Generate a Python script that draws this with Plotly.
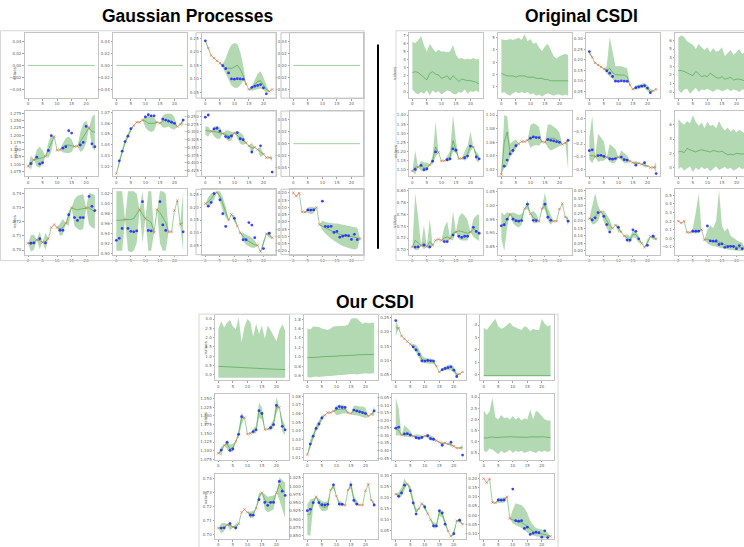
import plotly.graph_objects as go

# ---------------------------------------------------------------- data
STEPS = list(range(24))
XTICKS = [0, 5, 10, 15, 20]

# ground truth shared by the three methods (cell = row/column of a 3x4 grid)
TRUTH_R1C3 = [0.240, 0.213, 0.186, 0.176, 0.166, 0.157, 0.148, 0.137, 0.121, 0.099, 0.098, 0.100,
              0.099, 0.098, 0.080, 0.060, 0.068, 0.072, 0.075, 0.078, 0.066, 0.044, 0.053, 0.060]
OBS_R1C3 = [1, 2, 3, 4, 5, 14, 15, 22, 23]
TRUTH_R2C1 = [1.093, 1.102, 1.115, 1.124, 1.101, 1.105, 1.127, 1.147, 1.198, 1.195, 1.148, 1.150,
              1.155, 1.160, 1.215, 1.207, 1.161, 1.162, 1.166, 1.175, 1.230, 1.225, 1.170, 1.160]
OBS_R2C1 = [0, 2, 6, 9, 10, 11, 16, 17, 21]
TRUTH_R2C2 = [1.013, 1.025, 1.034, 1.043, 1.048, 1.055, 1.058, 1.061, 1.061, 1.063, 1.066, 1.068,
              1.067, 1.067, 1.061, 1.060, 1.064, 1.063, 1.062, 1.061, 1.060, 1.057, 1.059, 1.063]
OBS_R2C2 = [0, 6, 7, 8, 9, 14, 15, 21, 22]
TRUTH_R2C3 = [-0.252, -0.245, -0.298, -0.290, -0.288, -0.297, -0.305, -0.315, -0.318, -0.313, -0.303, -0.302,
              -0.322, -0.325, -0.335, -0.345, -0.365, -0.350, -0.357, -0.345, -0.372, -0.383, -0.383, -0.430]
OBS_R2C3 = [2, 6, 10, 14, 15, 17, 18, 20, 21, 22]
TRUTH_R3C1 = [0.7048, 0.7048, 0.7050, 0.7072, 0.7080, 0.7055, 0.7050, 0.7080, 0.7160, 0.7180, 0.7160, 0.7140,
              0.7140, 0.7190, 0.7250, 0.7300, 0.7230, 0.7210, 0.7230, 0.7230, 0.7300, 0.7380, 0.7310, 0.7280]
OBS_R3C1 = [0, 3, 5, 7, 8, 9, 10, 13, 15, 20]
TRUTH_R3C2 = [0.926, 0.930, 0.950, 0.968, 0.950, 0.944, 0.943, 0.945, 0.988, 1.004, 0.970, 0.946,
              0.945, 0.942, 0.988, 1.004, 0.957, 0.946, 0.943, 0.943, 0.986, 1.006, 0.958, 0.943]
OBS_R3C2 = [3, 8, 10, 13, 14, 18, 19, 20, 21, 22]
TRUTH_R3C3 = [0.215, 0.205, 0.220, 0.255, 0.260, 0.230, 0.175, 0.125, 0.150, 0.172, 0.157, 0.127,
              0.100, 0.072, 0.072, 0.140, 0.130, 0.080, 0.050, 0.025, 0.037, 0.095, 0.098, 0.080]
OBS_R3C3 = [0, 4, 8, 9, 11, 12, 18, 19, 21, 23]
TRUTH_R3C4 = [0.200, 0.178, 0.198, 0.070, 0.068, 0.083, 0.082, 0.083, 0.100, -0.018, 0.143, -0.030,
              -0.033, -0.030, -0.072, -0.065, -0.105, -0.098, -0.093, -0.095, -0.120, -0.085, -0.122, -0.115]
OBS_R3C4 = [0, 1, 2, 3, 4, 8, 9, 23]

# ---- Gaussian process imputation: median, 5% and 95% quantiles
GP_ZERO = [0.0, 0.0, 0.0, 0.0, 0.0, 0.0, 0.0, 0.0, 0.0, 0.0, 0.0, 0.0,
           0.0, 0.0, 0.0, 0.0, 0.0, 0.0, 0.0, 0.0, 0.0, 0.0, 0.0, 0.0]
GP_R1C3_MID = [0.240, 0.213, 0.186, 0.176, 0.166, 0.157, 0.148, 0.140, 0.138, 0.138, 0.143, 0.150,
               0.135, 0.112, 0.080, 0.060, 0.064, 0.076, 0.090, 0.092, 0.078, 0.060, 0.053, 0.060]
GP_R1C3_LO = [0.236, 0.213, 0.186, 0.176, 0.166, 0.157, 0.140, 0.120, 0.095, 0.075, 0.066, 0.066,
              0.075, 0.092, 0.080, 0.060, 0.055, 0.058, 0.062, 0.064, 0.058, 0.048, 0.053, 0.060]
GP_R1C3_HI = [0.244, 0.213, 0.186, 0.176, 0.166, 0.157, 0.155, 0.175, 0.205, 0.225, 0.232, 0.228,
              0.200, 0.150, 0.080, 0.060, 0.072, 0.095, 0.118, 0.127, 0.105, 0.075, 0.053, 0.060]
GP_R2C1_MID = [1.093, 1.106, 1.115, 1.118, 1.120, 1.122, 1.127, 1.150, 1.178, 1.195, 1.148, 1.150,
               1.160, 1.165, 1.166, 1.164, 1.161, 1.162, 1.178, 1.193, 1.212, 1.225, 1.212, 1.210]
GP_R2C1_LO = [1.093, 1.082, 1.115, 1.092, 1.088, 1.098, 1.127, 1.122, 1.142, 1.195, 1.148, 1.150,
              1.140, 1.138, 1.138, 1.142, 1.161, 1.162, 1.142, 1.150, 1.172, 1.225, 1.158, 1.145]
GP_R2C1_HI = [1.093, 1.130, 1.115, 1.150, 1.160, 1.148, 1.127, 1.175, 1.200, 1.195, 1.148, 1.150,
              1.172, 1.190, 1.195, 1.185, 1.161, 1.162, 1.210, 1.240, 1.250, 1.225, 1.262, 1.272]
GP_R2C2_MID = [1.013, 1.024, 1.033, 1.042, 1.048, 1.054, 1.058, 1.061, 1.061, 1.063, 1.062, 1.060,
               1.060, 1.060, 1.061, 1.060, 1.062, 1.063, 1.063, 1.062, 1.060, 1.057, 1.059, 1.063]
GP_R2C2_LO = [1.013, 1.022, 1.031, 1.040, 1.046, 1.052, 1.058, 1.061, 1.061, 1.063, 1.056, 1.053,
              1.052, 1.053, 1.061, 1.060, 1.056, 1.056, 1.057, 1.055, 1.054, 1.057, 1.059, 1.058]
GP_R2C2_HI = [1.013, 1.027, 1.036, 1.045, 1.051, 1.056, 1.058, 1.061, 1.061, 1.063, 1.067, 1.067,
              1.067, 1.066, 1.061, 1.060, 1.067, 1.069, 1.069, 1.069, 1.066, 1.057, 1.059, 1.066]
GP_R2C3_MID = [-0.295, -0.297, -0.298, -0.298, -0.300, -0.303, -0.305, -0.308, -0.312, -0.312, -0.303, -0.310,
               -0.320, -0.327, -0.335, -0.345, -0.352, -0.350, -0.357, -0.365, -0.372, -0.383, -0.383, -0.386]
GP_R2C3_LO = [-0.310, -0.315, -0.298, -0.315, -0.322, -0.322, -0.305, -0.322, -0.330, -0.328, -0.303, -0.322,
              -0.338, -0.342, -0.335, -0.345, -0.372, -0.350, -0.357, -0.382, -0.372, -0.383, -0.383, -0.395]
GP_R2C3_HI = [-0.282, -0.282, -0.298, -0.282, -0.280, -0.285, -0.305, -0.295, -0.295, -0.298, -0.303, -0.298,
              -0.302, -0.310, -0.335, -0.345, -0.335, -0.350, -0.357, -0.348, -0.372, -0.383, -0.383, -0.378]
GP_R3C1_MID = [0.7048, 0.7050, 0.7052, 0.7072, 0.7068, 0.7055, 0.7060, 0.7080, 0.7160, 0.7180, 0.7160, 0.7150,
               0.7160, 0.7190, 0.7240, 0.7300, 0.7290, 0.7285, 0.7290, 0.7295, 0.7300, 0.7300, 0.7285, 0.7270]
GP_R3C1_LO = [0.7048, 0.6990, 0.7000, 0.7072, 0.7005, 0.7055, 0.7000, 0.7080, 0.7160, 0.7180, 0.7160, 0.7100,
              0.7110, 0.7190, 0.7170, 0.7300, 0.7170, 0.7150, 0.7140, 0.7150, 0.7300, 0.7180, 0.7160, 0.7150]
GP_R3C1_HI = [0.7048, 0.7105, 0.7110, 0.7072, 0.7130, 0.7055, 0.7120, 0.7080, 0.7160, 0.7180, 0.7160, 0.7190,
              0.7220, 0.7190, 0.7280, 0.7300, 0.7360, 0.7385, 0.7390, 0.7395, 0.7300, 0.7405, 0.7400, 0.7390]
GP_R3C2_MID = [0.966, 0.966, 0.967, 0.968, 0.968, 0.968, 0.970, 0.978, 0.988, 0.978, 0.970, 0.966,
               0.962, 0.942, 0.988, 0.982, 0.972, 0.962, 0.943, 0.943, 0.986, 1.006, 0.958, 0.962]
GP_R3C2_LO = [0.905, 0.905, 0.905, 0.968, 0.905, 0.902, 0.905, 0.920, 0.988, 0.920, 0.970, 0.905,
              0.905, 0.942, 0.988, 0.920, 0.905, 0.905, 0.943, 0.943, 0.986, 1.006, 0.958, 0.905]
GP_R3C2_HI = [1.025, 1.025, 1.025, 0.968, 1.025, 1.025, 1.025, 1.020, 0.988, 1.025, 0.970, 1.025,
              1.025, 0.942, 0.988, 1.025, 1.025, 1.020, 0.943, 0.943, 0.986, 1.006, 0.958, 1.025]
GP_R3C3_MID = [0.215, 0.222, 0.235, 0.250, 0.260, 0.245, 0.215, 0.185, 0.150, 0.172, 0.155, 0.127,
               0.100, 0.085, 0.072, 0.065, 0.058, 0.052, 0.050, 0.025, 0.060, 0.095, 0.092, 0.080]
GP_R3C3_LO = [0.215, 0.200, 0.212, 0.230, 0.260, 0.220, 0.185, 0.160, 0.150, 0.172, 0.140, 0.127,
              0.100, 0.068, 0.052, 0.045, 0.040, 0.040, 0.050, 0.025, 0.045, 0.095, 0.080, 0.080]
GP_R3C3_HI = [0.215, 0.240, 0.255, 0.262, 0.260, 0.265, 0.240, 0.205, 0.150, 0.172, 0.170, 0.127,
              0.100, 0.100, 0.092, 0.088, 0.080, 0.068, 0.050, 0.025, 0.070, 0.095, 0.105, 0.080]
GP_R3C4_MID = [0.200, 0.178, 0.198, 0.070, 0.068, 0.080, 0.082, 0.082, 0.100, -0.018, -0.030, -0.042,
               -0.052, -0.060, -0.070, -0.078, -0.085, -0.090, -0.093, -0.095, -0.100, -0.105, -0.110, -0.115]
GP_R3C4_LO = [0.200, 0.178, 0.198, 0.070, 0.068, 0.060, 0.055, 0.058, 0.100, -0.018, -0.055, -0.080,
              -0.100, -0.115, -0.130, -0.145, -0.155, -0.165, -0.175, -0.180, -0.185, -0.190, -0.185, -0.115]
GP_R3C4_HI = [0.200, 0.178, 0.198, 0.070, 0.068, 0.100, 0.105, 0.102, 0.100, -0.018, 0.010, 0.000,
              -0.005, -0.010, -0.010, -0.010, -0.015, -0.020, -0.025, -0.030, -0.035, -0.040, -0.040, -0.115]

# ---- original CSDI: median, 5% and 95% quantiles
ORIG_R1C1_MID = [2.4, 2.5, 2.4, 2.1, 1.9, 1.5, 2.3, 2.5, 2.2, 2.1, 1.7, 1.8,
                 2.0, 1.5, 2.0, 1.7, 1.3, 1.6, 1.5, 1.4, 1.4, 1.3, 1.2, 1.0]
ORIG_R1C1_LO = [0.3, -0.1, -0.3, 0.0, -0.2, 0.2, -0.4, 0.2, -0.1, 0.1, -0.3, 0.0,
                0.2, 0.1, -0.2, -0.3, 0.0, -0.1, 0.3, -0.2, 0.1, 0.0, 0.2, -0.1]
ORIG_R1C1_HI = [6.2, 6.0, 6.4, 6.9, 5.8, 5.0, 5.9, 5.4, 4.9, 5.2, 5.0, 5.0,
                4.9, 5.0, 5.8, 4.6, 4.1, 4.2, 4.0, 4.1, 4.0, 4.2, 4.0, 4.1]
ORIG_R1C2_MID = [2.1, 2.0, 1.9, 1.9, 1.9, 1.8, 1.9, 1.9, 1.9, 1.8, 1.8, 1.8,
                 1.7, 1.7, 1.7, 1.6, 1.6, 1.5, 1.5, 1.5, 1.5, 1.5, 1.5, 1.5]
ORIG_R1C2_LO = [0.5, 0.6, 0.4, 0.3, 0.5, 0.6, 0.5, 0.6, 0.5, 0.6, 0.4, 0.5,
                0.3, 0.4, 0.2, 0.4, 0.5, 0.4, 0.3, 0.4, 0.4, 0.3, 0.4, 0.3]
ORIG_R1C2_HI = [4.9, 4.8, 4.8, 4.9, 4.8, 4.9, 5.0, 4.8, 5.3, 4.7, 4.9, 4.5,
                4.6, 4.2, 3.9, 4.3, 4.5, 4.0, 3.5, 3.3, 3.5, 3.6, 3.7, 3.6]
ORIG_R1C3_MID = [0.235, 0.213, 0.186, 0.176, 0.166, 0.157, 0.150, 0.160, 0.140, 0.130, 0.128, 0.128,
                 0.128, 0.120, 0.080, 0.060, 0.068, 0.072, 0.078, 0.078, 0.065, 0.050, 0.053, 0.060]
ORIG_R1C3_LO = [0.225, 0.213, 0.186, 0.176, 0.166, 0.157, 0.135, 0.120, 0.105, 0.095, 0.100, 0.105,
                0.100, 0.098, 0.080, 0.060, 0.058, 0.060, 0.066, 0.066, 0.052, 0.040, 0.053, 0.060]
ORIG_R1C3_HI = [0.245, 0.213, 0.186, 0.176, 0.166, 0.157, 0.170, 0.310, 0.240, 0.170, 0.170, 0.170,
                0.165, 0.160, 0.080, 0.060, 0.078, 0.082, 0.088, 0.090, 0.080, 0.062, 0.053, 0.060]
ORIG_R1C4_MID = [2.5, 2.5, 2.4, 2.2, 2.0, 1.9, 2.4, 2.1, 1.8, 1.9, 1.8, 2.2,
                 1.9, 1.7, 1.6, 1.8, 1.5, 1.6, 1.7, 1.4, 1.5, 1.5, 1.4, 1.3]
ORIG_R1C4_LO = [0.2, -0.1, 0.3, 0.4, -0.2, 0.1, 0.5, 0.0, 0.3, 0.2, 0.4, 0.2,
                0.0, 0.3, 0.3, 0.1, 0.2, 0.4, 0.1, 0.3, 0.2, 0.0, 0.3, 0.2]
ORIG_R1C4_HI = [6.3, 6.6, 6.4, 5.9, 5.7, 5.5, 5.0, 5.6, 5.2, 4.9, 5.2, 4.6,
                5.1, 4.7, 4.8, 5.2, 4.2, 4.5, 4.9, 4.3, 4.6, 5.0, 4.4, 4.7]
ORIG_R2C1_MID = [1.093, 1.115, 1.115, 1.125, 1.110, 1.110, 1.127, 1.150, 1.225, 1.195, 1.148, 1.150,
                 1.160, 1.170, 1.260, 1.215, 1.161, 1.162, 1.170, 1.185, 1.230, 1.225, 1.180, 1.160]
ORIG_R2C1_LO = [1.093, 1.075, 1.115, 1.095, 1.090, 1.095, 1.127, 1.130, 1.170, 1.195, 1.148, 1.150,
                1.145, 1.150, 1.200, 1.190, 1.161, 1.162, 1.150, 1.160, 1.200, 1.225, 1.150, 1.140]
ORIG_R2C1_HI = [1.093, 1.205, 1.115, 1.150, 1.140, 1.140, 1.127, 1.180, 1.365, 1.195, 1.148, 1.150,
                1.175, 1.200, 1.400, 1.260, 1.161, 1.162, 1.200, 1.230, 1.310, 1.225, 1.200, 1.180]
ORIG_R2C2_MID = [1.013, 1.060, 1.075, 1.045, 1.050, 1.055, 1.058, 1.061, 1.061, 1.063, 1.065, 1.068,
                 1.068, 1.067, 1.061, 1.060, 1.066, 1.066, 1.066, 1.064, 1.062, 1.057, 1.059, 1.063]
ORIG_R2C2_LO = [1.013, 1.022, 1.025, 1.038, 1.044, 1.050, 1.058, 1.061, 1.061, 1.063, 1.052, 1.055,
                1.056, 1.055, 1.061, 1.060, 1.052, 1.048, 1.050, 1.052, 1.054, 1.057, 1.059, 1.020]
ORIG_R2C2_HI = [1.013, 1.100, 1.098, 1.058, 1.062, 1.064, 1.058, 1.061, 1.061, 1.063, 1.085, 1.088,
                1.086, 1.082, 1.061, 1.060, 1.086, 1.086, 1.083, 1.080, 1.074, 1.057, 1.059, 1.068]
ORIG_R2C3_MID = [-0.290, -0.290, -0.298, -0.290, -0.290, -0.297, -0.305, -0.310, -0.315, -0.312, -0.303, -0.305,
                 -0.318, -0.322, -0.335, -0.345, -0.350, -0.350, -0.357, -0.362, -0.372, -0.383, -0.383, -0.380]
ORIG_R2C3_LO = [-0.320, -0.350, -0.298, -0.340, -0.330, -0.330, -0.305, -0.340, -0.350, -0.340, -0.303, -0.330,
                -0.350, -0.350, -0.335, -0.345, -0.370, -0.350, -0.357, -0.380, -0.372, -0.383, -0.383, -0.420]
ORIG_R2C3_HI = [-0.150, 0.020, -0.298, -0.120, -0.150, -0.180, -0.305, -0.200, -0.220, -0.240, -0.303, -0.250,
                -0.270, -0.290, -0.335, -0.345, -0.330, -0.350, -0.357, -0.340, -0.372, -0.383, -0.383, -0.340]
ORIG_R2C4_MID = [2.2, 2.3, 2.1, 2.7, 2.5, 2.3, 2.2, 2.4, 2.5, 2.4, 2.3, 2.2,
                 2.4, 2.3, 2.2, 2.3, 2.1, 1.8, 1.9, 1.8, 2.0, 1.9, 1.9, 2.0]
ORIG_R2C4_LO = [-0.2, 0.1, -0.4, -0.1, 0.2, -0.6, 0.0, -0.3, 0.1, -0.2, 0.0, -0.5,
                -0.1, 0.2, -0.3, -0.1, 0.1, -0.2, 0.0, -0.4, -0.1, 0.1, -0.2, 0.0]
ORIG_R2C4_HI = [6.8, 6.3, 6.0, 6.5, 6.2, 7.3, 6.4, 5.8, 6.3, 5.5, 6.4, 5.8,
                6.0, 5.5, 6.5, 5.7, 5.2, 5.6, 5.0, 5.4, 4.9, 5.3, 5.0, 4.8]
ORIG_R3C1_MID = [0.7048, 0.7160, 0.7120, 0.7072, 0.7120, 0.7055, 0.7140, 0.7080, 0.7160, 0.7180, 0.7160, 0.7200,
                 0.7220, 0.7190, 0.7280, 0.7300, 0.7320, 0.7310, 0.7300, 0.7280, 0.7300, 0.7350, 0.7320, 0.7280]
ORIG_R3C1_LO = [0.7048, 0.7000, 0.7000, 0.7072, 0.7010, 0.7055, 0.7010, 0.7080, 0.7160, 0.7180, 0.7160, 0.7120,
                0.7120, 0.7190, 0.7160, 0.7300, 0.7180, 0.7160, 0.7160, 0.7160, 0.7300, 0.7220, 0.7180, 0.7150]
ORIG_R3C1_HI = [0.7048, 0.7950, 0.7550, 0.7072, 0.7420, 0.7055, 0.7520, 0.7080, 0.7160, 0.7180, 0.7160, 0.7380,
                0.7480, 0.7190, 0.7650, 0.7300, 0.7550, 0.7620, 0.7580, 0.7500, 0.7300, 0.7520, 0.7580, 0.7600]
ORIG_R3C2_MID = [0.930, 0.930, 0.950, 0.968, 0.955, 0.948, 0.945, 0.950, 0.988, 1.000, 0.970, 0.955,
                 0.950, 0.942, 0.988, 1.000, 0.965, 0.950, 0.943, 0.943, 0.986, 1.006, 0.958, 0.950]
ORIG_R3C2_LO = [0.880, 0.835, 0.920, 0.968, 0.935, 0.925, 0.920, 0.930, 0.988, 0.985, 0.970, 0.935,
                0.935, 0.942, 0.988, 0.985, 0.945, 0.930, 0.943, 0.943, 0.986, 1.006, 0.958, 0.925]
ORIG_R3C2_HI = [0.975, 0.965, 0.975, 0.968, 0.975, 0.970, 0.965, 0.970, 0.988, 1.020, 0.970, 0.980,
                0.970, 0.942, 0.988, 1.045, 0.990, 0.965, 0.943, 0.943, 0.986, 1.006, 0.958, 0.960]
ORIG_R3C3_MID = [0.215, 0.215, 0.230, 0.250, 0.260, 0.235, 0.200, 0.170, 0.150, 0.172, 0.150, 0.127,
                 0.100, 0.085, 0.072, 0.110, 0.110, 0.080, 0.050, 0.025, 0.055, 0.095, 0.090, 0.080]
ORIG_R3C3_LO = [0.215, 0.175, 0.180, 0.200, 0.260, 0.190, 0.150, 0.120, 0.150, 0.172, 0.120, 0.127,
                0.100, 0.060, 0.055, 0.090, 0.085, 0.055, 0.050, 0.025, 0.030, 0.095, 0.070, 0.080]
ORIG_R3C3_HI = [0.215, 0.300, 0.385, 0.300, 0.260, 0.270, 0.240, 0.210, 0.150, 0.172, 0.175, 0.127,
                0.100, 0.110, 0.095, 0.135, 0.130, 0.100, 0.050, 0.025, 0.080, 0.095, 0.110, 0.080]
ORIG_R3C4_MID = [0.200, 0.178, 0.198, 0.070, 0.068, 0.080, 0.080, 0.085, 0.100, -0.018, -0.010, -0.025,
                 -0.040, -0.050, -0.040, -0.060, -0.075, -0.085, -0.090, -0.095, -0.100, -0.105, -0.110, -0.115]
ORIG_R3C4_LO = [0.200, 0.178, 0.198, 0.070, 0.068, 0.060, 0.055, 0.060, 0.100, -0.018, -0.060, -0.080,
                -0.090, -0.100, -0.110, -0.115, -0.120, -0.130, -0.135, -0.140, -0.145, -0.150, -0.150, -0.115]
ORIG_R3C4_HI = [0.200, 0.178, 0.198, 0.070, 0.068, 0.120, 0.300, 0.520, 0.100, -0.018, 0.100, 0.150,
                0.120, 0.200, 0.560, 0.150, 0.080, 0.120, 0.030, 0.000, -0.020, -0.040, -0.050, -0.115]

# ---- our CSDI: median, 5% and 95% quantiles
OURS_R1C1_MID = [0.46, 0.45, 0.45, 0.44, 0.43, 0.42, 0.41, 0.40, 0.40, 0.38, 0.37, 0.36,
                 0.36, 0.34, 0.33, 0.34, 0.32, 0.31, 0.31, 0.31, 0.30, 0.30, 0.29, 0.29]
OURS_R1C1_LO = [-0.15, -0.15, -0.16, -0.15, -0.15, -0.16, -0.15, -0.15, -0.16, -0.15, -0.15, -0.15,
                -0.16, -0.15, -0.15, -0.15, -0.16, -0.15, -0.15, -0.15, -0.16, -0.15, -0.15, -0.15]
OURS_R1C1_HI = [2.45, 2.90, 2.55, 2.80, 2.95, 2.60, 2.45, 3.10, 1.75, 2.60, 3.00, 2.85,
                2.05, 2.75, 2.20, 2.65, 1.95, 2.65, 2.40, 2.10, 1.80, 2.40, 2.70, 2.40]
OURS_R1C2_MID = [0.98, 0.98, 0.99, 0.99, 0.99, 1.00, 1.00, 1.00, 1.01, 1.01, 1.01, 1.02,
                 1.02, 1.02, 1.03, 1.03, 1.03, 1.04, 1.04, 1.04, 1.05, 1.05, 1.05, 1.05]
OURS_R1C2_LO = [0.57, 0.56, 0.57, 0.58, 0.57, 0.58, 0.58, 0.59, 0.59, 0.60, 0.60, 0.61,
                0.61, 0.62, 0.62, 0.63, 0.63, 0.62, 0.63, 0.64, 0.65, 0.64, 0.65, 0.65]
OURS_R1C2_HI = [1.60, 1.58, 1.64, 1.64, 1.63, 1.60, 1.58, 1.57, 1.60, 1.64, 1.65, 1.65,
                1.66, 1.66, 1.68, 1.80, 1.82, 1.82, 1.76, 1.70, 1.73, 1.71, 1.72, 1.72]
OURS_R1C3_MID = [0.215, 0.213, 0.186, 0.176, 0.166, 0.157, 0.148, 0.140, 0.125, 0.105, 0.100, 0.100,
                 0.098, 0.098, 0.080, 0.060, 0.068, 0.072, 0.075, 0.077, 0.068, 0.050, 0.053, 0.060]
OURS_R1C3_LO = [0.185, 0.213, 0.186, 0.176, 0.166, 0.157, 0.140, 0.128, 0.110, 0.092, 0.090, 0.090,
                0.090, 0.088, 0.080, 0.060, 0.062, 0.066, 0.066, 0.066, 0.058, 0.042, 0.053, 0.060]
OURS_R1C3_HI = [0.245, 0.213, 0.186, 0.176, 0.166, 0.157, 0.158, 0.155, 0.140, 0.118, 0.110, 0.108,
                0.106, 0.105, 0.080, 0.060, 0.074, 0.080, 0.085, 0.086, 0.078, 0.058, 0.053, 0.060]
OURS_R1C4_MID = [-0.06, -0.06, -0.05, -0.06, -0.06, -0.05, -0.06, -0.06, -0.06, -0.05, -0.06, -0.06,
                 -0.06, -0.05, -0.06, -0.06, -0.06, -0.05, -0.06, -0.06, -0.06, -0.06, -0.05, -0.06]
OURS_R1C4_LO = [-0.10, -0.10, -0.10, -0.11, -0.10, -0.10, -0.10, -0.11, -0.10, -0.10, -0.10, -0.10,
                -0.11, -0.10, -0.10, -0.10, -0.11, -0.10, -0.10, -0.10, -0.10, -0.11, -0.10, -0.10]
OURS_R1C4_HI = [3.8, 3.6, 3.9, 4.2, 4.5, 3.9, 3.7, 3.8, 4.0, 4.2, 3.9, 3.8,
                3.7, 3.6, 3.9, 3.8, 3.5, 3.7, 3.6, 3.6, 4.5, 4.1, 3.9, 4.0]
OURS_R2C1_MID = [1.093, 1.100, 1.115, 1.120, 1.105, 1.108, 1.127, 1.150, 1.195, 1.195, 1.148, 1.150,
                 1.155, 1.160, 1.215, 1.207, 1.161, 1.162, 1.166, 1.178, 1.225, 1.225, 1.175, 1.160]
OURS_R2C1_LO = [1.093, 1.085, 1.115, 1.105, 1.095, 1.097, 1.127, 1.138, 1.175, 1.195, 1.148, 1.150,
                1.148, 1.150, 1.195, 1.190, 1.161, 1.162, 1.158, 1.165, 1.208, 1.225, 1.155, 1.145]
OURS_R2C1_HI = [1.093, 1.112, 1.115, 1.132, 1.118, 1.120, 1.127, 1.162, 1.210, 1.195, 1.148, 1.150,
                1.163, 1.172, 1.238, 1.225, 1.161, 1.162, 1.175, 1.190, 1.255, 1.225, 1.192, 1.172]
OURS_R2C2_MID = [1.013, 1.025, 1.034, 1.043, 1.048, 1.055, 1.058, 1.061, 1.061, 1.063, 1.064, 1.065,
                 1.065, 1.065, 1.061, 1.060, 1.064, 1.063, 1.063, 1.062, 1.061, 1.057, 1.059, 1.063]
OURS_R2C2_LO = [1.013, 1.020, 1.030, 1.039, 1.045, 1.052, 1.058, 1.061, 1.061, 1.063, 1.058, 1.059,
                1.060, 1.060, 1.061, 1.060, 1.058, 1.058, 1.057, 1.056, 1.055, 1.057, 1.059, 1.057]
OURS_R2C2_HI = [1.013, 1.030, 1.038, 1.047, 1.052, 1.058, 1.058, 1.061, 1.061, 1.063, 1.069, 1.070,
                1.070, 1.069, 1.061, 1.060, 1.069, 1.069, 1.068, 1.068, 1.067, 1.057, 1.059, 1.069]
OURS_R2C3_MID = [-0.255, -0.265, -0.298, -0.290, -0.290, -0.297, -0.305, -0.312, -0.316, -0.313, -0.303, -0.305,
                 -0.318, -0.322, -0.335, -0.345, -0.355, -0.350, -0.357, -0.360, -0.372, -0.383, -0.383, -0.380]
OURS_R2C3_LO = [-0.300, -0.300, -0.298, -0.310, -0.308, -0.312, -0.305, -0.325, -0.330, -0.325, -0.303, -0.318,
                -0.332, -0.335, -0.335, -0.345, -0.370, -0.350, -0.357, -0.375, -0.372, -0.383, -0.383, -0.400]
OURS_R2C3_HI = [-0.050, -0.120, -0.298, -0.230, -0.250, -0.270, -0.305, -0.290, -0.295, -0.298, -0.303, -0.290,
                -0.300, -0.308, -0.335, -0.345, -0.340, -0.350, -0.357, -0.345, -0.372, -0.383, -0.383, -0.360]
OURS_R2C4_MID = [1.18, 1.17, 1.20, 1.22, 1.19, 1.20, 1.22, 1.20, 1.21, 1.23, 1.22, 1.21,
                 1.20, 1.22, 1.21, 1.20, 1.22, 1.21, 1.20, 1.22, 1.23, 1.21, 1.20, 1.19]
OURS_R2C4_LO = [0.60, 0.55, 0.70, 0.65, 0.55, 0.45, 0.60, 0.50, 0.55, 0.65, 0.50, 0.60,
                0.55, 0.60, 0.50, 0.55, 0.60, 0.55, 0.50, 0.60, 0.55, 0.60, 0.55, 0.60]
OURS_R2C4_HI = [2.40, 2.20, 2.35, 2.98, 2.10, 2.00, 2.20, 2.05, 2.10, 2.00, 2.15, 2.00,
                2.10, 1.95, 2.05, 2.00, 2.45, 2.00, 2.40, 2.30, 2.15, 2.00, 1.95, 1.95]
OURS_R3C1_MID = [0.7048, 0.7050, 0.7050, 0.7072, 0.7065, 0.7055, 0.7052, 0.7080, 0.7160, 0.7180, 0.7160, 0.7150,
                 0.7145, 0.7190, 0.7270, 0.7300, 0.7250, 0.7230, 0.7230, 0.7240, 0.7300, 0.7360, 0.7320, 0.7300]
OURS_R3C1_LO = [0.7048, 0.7010, 0.7025, 0.7072, 0.7030, 0.7055, 0.7030, 0.7080, 0.7160, 0.7180, 0.7160, 0.7120,
                0.7120, 0.7190, 0.7230, 0.7300, 0.7180, 0.7160, 0.7170, 0.7180, 0.7300, 0.7250, 0.7180, 0.7120]
OURS_R3C1_HI = [0.7048, 0.7080, 0.7085, 0.7072, 0.7095, 0.7055, 0.7080, 0.7080, 0.7160, 0.7180, 0.7160, 0.7165,
                0.7170, 0.7190, 0.7300, 0.7300, 0.7290, 0.7270, 0.7275, 0.7280, 0.7300, 0.7410, 0.7390, 0.7370]
OURS_R3C2_MID = [0.915, 0.915, 0.950, 0.968, 0.950, 0.938, 0.936, 0.938, 0.988, 1.002, 0.970, 0.947,
                 0.946, 0.942, 0.988, 1.003, 0.960, 0.948, 0.943, 0.943, 0.986, 1.006, 0.958, 0.945]
OURS_R3C2_LO = [0.852, 0.850, 0.935, 0.968, 0.938, 0.925, 0.925, 0.928, 0.988, 0.992, 0.970, 0.940,
                0.940, 0.942, 0.988, 0.992, 0.950, 0.940, 0.943, 0.943, 0.986, 1.006, 0.958, 0.935]
OURS_R3C2_HI = [0.945, 0.960, 0.962, 0.968, 0.962, 0.955, 0.952, 0.955, 0.988, 1.012, 0.970, 0.955,
                0.952, 0.942, 0.988, 1.018, 0.972, 0.958, 0.943, 0.943, 0.986, 1.006, 0.958, 0.955]
OURS_R3C3_MID = [0.215, 0.210, 0.225, 0.250, 0.260, 0.235, 0.180, 0.135, 0.150, 0.172, 0.155, 0.127,
                 0.100, 0.075, 0.072, 0.135, 0.125, 0.085, 0.050, 0.025, 0.040, 0.095, 0.095, 0.080]
OURS_R3C3_LO = [0.215, 0.195, 0.205, 0.235, 0.260, 0.215, 0.165, 0.120, 0.150, 0.172, 0.143, 0.127,
                0.100, 0.062, 0.062, 0.118, 0.110, 0.070, 0.050, 0.025, 0.028, 0.095, 0.085, 0.080]
OURS_R3C3_HI = [0.215, 0.225, 0.245, 0.285, 0.260, 0.255, 0.195, 0.150, 0.150, 0.172, 0.168, 0.127,
                0.100, 0.088, 0.085, 0.150, 0.140, 0.100, 0.050, 0.025, 0.052, 0.095, 0.108, 0.080]
OURS_R3C4_MID = [0.200, 0.178, 0.198, 0.070, 0.068, 0.082, 0.082, 0.083, 0.100, -0.018, -0.025, -0.030,
                 -0.035, -0.040, -0.050, -0.060, -0.075, -0.090, -0.095, -0.100, -0.102, -0.105, -0.112, -0.115]
OURS_R3C4_LO = [0.200, 0.178, 0.198, 0.070, 0.068, 0.068, 0.066, 0.068, 0.100, -0.018, -0.045, -0.055,
                -0.062, -0.070, -0.085, -0.095, -0.105, -0.112, -0.115, -0.118, -0.122, -0.125, -0.125, -0.115]
OURS_R3C4_HI = [0.200, 0.178, 0.198, 0.070, 0.068, 0.095, 0.096, 0.098, 0.100, -0.018, 0.030, 0.065,
                0.060, 0.055, 0.040, 0.010, -0.030, -0.055, -0.070, -0.075, -0.080, -0.082, -0.095, -0.115]

# ---- y-axis limits and tick values of every small plot
GP_YRANGE = {
    (1, 1): [-0.055, 0.055], (1, 2): [-0.055, 0.055], (1, 3): [0.028, 0.27], (1, 4): [-0.055, 0.055],
    (2, 1): [1.058, 1.283], (2, 2): [1.0105, 1.0715], (2, 3): [-0.444, -0.232], (2, 4): [-0.055, 0.055],
    (3, 1): [0.6967, 0.7431], (3, 2): [0.897, 1.029], (3, 3): [0.013, 0.272], (3, 4): [-0.225, 0.225],
}
GP_YTICKS = {
    (1, 1): [-0.04, -0.02, 0.0, 0.02, 0.04], (1, 2): [-0.04, -0.02, 0.0, 0.02, 0.04],
    (1, 3): [0.05, 0.10, 0.15, 0.20, 0.25], (1, 4): [-0.04, -0.02, 0.0, 0.02, 0.04],
    (2, 1): [1.075, 1.100, 1.125, 1.150, 1.175, 1.200, 1.225, 1.250, 1.275],
    (2, 2): [1.02, 1.03, 1.04, 1.05, 1.06, 1.07],
    (2, 3): [-0.425, -0.400, -0.375, -0.350, -0.325, -0.300, -0.275, -0.250],
    (2, 4): [-0.04, -0.02, 0.0, 0.02, 0.04],
    (3, 1): [0.70, 0.71, 0.72, 0.73, 0.74], (3, 2): [0.90, 0.92, 0.94, 0.96, 0.98, 1.00, 1.02],
    (3, 3): [0.05, 0.10, 0.15, 0.20, 0.25],
    (3, 4): [-0.20, -0.15, -0.10, -0.05, 0.00, 0.05, 0.10, 0.15, 0.20],
}
ORIG_YRANGE = {
    (1, 1): [-0.75, 7.3], (1, 2): [0.1, 5.4], (1, 3): [0.018, 0.33], (1, 4): [-0.7, 6.9],
    (2, 1): [1.064, 1.422], (2, 2): [1.010, 1.106], (2, 3): [-0.452, 0.057], (2, 4): [-1.2, 7.9],
    (3, 1): [0.692, 0.802], (3, 2): [0.822, 1.058], (3, 3): [-0.025, 0.41], (3, 4): [-0.19, 0.57],
}
ORIG_YTICKS = {
    (1, 1): [0, 1, 2, 3, 4, 5, 6, 7], (1, 2): [1, 2, 3, 4, 5],
    (1, 3): [0.05, 0.10, 0.15, 0.20, 0.25, 0.30], (1, 4): [0, 1, 2, 3, 4, 5, 6],
    (2, 1): [1.10, 1.15, 1.20, 1.25, 1.30, 1.35, 1.40], (2, 2): [1.02, 1.04, 1.06, 1.08, 1.10],
    (2, 3): [-0.4, -0.3, -0.2, -0.1, 0.0], (2, 4): [0, 2, 4, 6],
    (3, 1): [0.70, 0.72, 0.74, 0.76, 0.78, 0.80], (3, 2): [0.85, 0.90, 0.95, 1.00, 1.05],
    (3, 3): [0.00, 0.05, 0.10, 0.15, 0.20, 0.25, 0.30, 0.35, 0.40],
    (3, 4): [-0.1, 0.0, 0.1, 0.2, 0.3, 0.4, 0.5],
}
OURS_YRANGE = {
    (1, 1): [-0.3, 3.21], (1, 2): [0.494, 1.885], (1, 3): [0.030, 0.259], (1, 4): [-0.45, 4.8],
    (2, 1): [1.074, 1.262], (2, 2): [1.007, 1.082], (2, 3): [-0.461, -0.028], (2, 4): [0.2, 3.12],
    (3, 1): [0.697, 0.7435], (3, 2): [0.84, 1.038], (3, 3): [0.013, 0.307], (3, 4): [-0.13, 0.227],
}
OURS_YTICKS = {
    (1, 1): [0.0, 0.5, 1.0, 1.5, 2.0, 2.5, 3.0], (1, 2): [0.6, 0.8, 1.0, 1.2, 1.4, 1.6, 1.8],
    (1, 3): [0.05, 0.10, 0.15, 0.20, 0.25], (1, 4): [0, 1, 2, 3, 4],
    (2, 1): [1.075, 1.100, 1.125, 1.150, 1.175, 1.200, 1.225, 1.250],
    (2, 2): [1.01, 1.02, 1.03, 1.04, 1.05, 1.06, 1.07, 1.08],
    (2, 3): [-0.45, -0.40, -0.35, -0.30, -0.25, -0.20, -0.15, -0.10, -0.05],
    (2, 4): [0.5, 1.0, 1.5, 2.0, 2.5, 3.0],
    (3, 1): [0.70, 0.71, 0.72, 0.73, 0.74],
    (3, 2): [0.850, 0.875, 0.900, 0.925, 0.950, 0.975, 1.000, 1.025],
    (3, 3): [0.05, 0.10, 0.15, 0.20, 0.25, 0.30],
    (3, 4): [-0.10, -0.05, 0.00, 0.05, 0.10, 0.15, 0.20],
}

TRUTH = {(1, 3): (TRUTH_R1C3, OBS_R1C3), (2, 1): (TRUTH_R2C1, OBS_R2C1), (2, 2): (TRUTH_R2C2, OBS_R2C2),
         (2, 3): (TRUTH_R2C3, OBS_R2C3), (3, 1): (TRUTH_R3C1, OBS_R3C1), (3, 2): (TRUTH_R3C2, OBS_R3C2),
         (3, 3): (TRUTH_R3C3, OBS_R3C3), (3, 4): (TRUTH_R3C4, OBS_R3C4)}

GP_BANDS = {
    (1, 1): (GP_ZERO, GP_ZERO, GP_ZERO), (1, 2): (GP_ZERO, GP_ZERO, GP_ZERO),
    (1, 3): (GP_R1C3_MID, GP_R1C3_LO, GP_R1C3_HI), (1, 4): (GP_ZERO, GP_ZERO, GP_ZERO),
    (2, 1): (GP_R2C1_MID, GP_R2C1_LO, GP_R2C1_HI), (2, 2): (GP_R2C2_MID, GP_R2C2_LO, GP_R2C2_HI),
    (2, 3): (GP_R2C3_MID, GP_R2C3_LO, GP_R2C3_HI), (2, 4): (GP_ZERO, GP_ZERO, GP_ZERO),
    (3, 1): (GP_R3C1_MID, GP_R3C1_LO, GP_R3C1_HI), (3, 2): (GP_R3C2_MID, GP_R3C2_LO, GP_R3C2_HI),
    (3, 3): (GP_R3C3_MID, GP_R3C3_LO, GP_R3C3_HI), (3, 4): (GP_R3C4_MID, GP_R3C4_LO, GP_R3C4_HI),
}
ORIG_BANDS = {
    (1, 1): (ORIG_R1C1_MID, ORIG_R1C1_LO, ORIG_R1C1_HI), (1, 2): (ORIG_R1C2_MID, ORIG_R1C2_LO, ORIG_R1C2_HI),
    (1, 3): (ORIG_R1C3_MID, ORIG_R1C3_LO, ORIG_R1C3_HI), (1, 4): (ORIG_R1C4_MID, ORIG_R1C4_LO, ORIG_R1C4_HI),
    (2, 1): (ORIG_R2C1_MID, ORIG_R2C1_LO, ORIG_R2C1_HI), (2, 2): (ORIG_R2C2_MID, ORIG_R2C2_LO, ORIG_R2C2_HI),
    (2, 3): (ORIG_R2C3_MID, ORIG_R2C3_LO, ORIG_R2C3_HI), (2, 4): (ORIG_R2C4_MID, ORIG_R2C4_LO, ORIG_R2C4_HI),
    (3, 1): (ORIG_R3C1_MID, ORIG_R3C1_LO, ORIG_R3C1_HI), (3, 2): (ORIG_R3C2_MID, ORIG_R3C2_LO, ORIG_R3C2_HI),
    (3, 3): (ORIG_R3C3_MID, ORIG_R3C3_LO, ORIG_R3C3_HI), (3, 4): (ORIG_R3C4_MID, ORIG_R3C4_LO, ORIG_R3C4_HI),
}
OURS_BANDS = {
    (1, 1): (OURS_R1C1_MID, OURS_R1C1_LO, OURS_R1C1_HI), (1, 2): (OURS_R1C2_MID, OURS_R1C2_LO, OURS_R1C2_HI),
    (1, 3): (OURS_R1C3_MID, OURS_R1C3_LO, OURS_R1C3_HI), (1, 4): (OURS_R1C4_MID, OURS_R1C4_LO, OURS_R1C4_HI),
    (2, 1): (OURS_R2C1_MID, OURS_R2C1_LO, OURS_R2C1_HI), (2, 2): (OURS_R2C2_MID, OURS_R2C2_LO, OURS_R2C2_HI),
    (2, 3): (OURS_R2C3_MID, OURS_R2C3_LO, OURS_R2C3_HI), (2, 4): (OURS_R2C4_MID, OURS_R2C4_LO, OURS_R2C4_HI),
    (3, 1): (OURS_R3C1_MID, OURS_R3C1_LO, OURS_R3C1_HI), (3, 2): (OURS_R3C2_MID, OURS_R3C2_LO, OURS_R3C2_HI),
    (3, 3): (OURS_R3C3_MID, OURS_R3C3_LO, OURS_R3C3_HI), (3, 4): (OURS_R3C4_MID, OURS_R3C4_LO, OURS_R3C4_HI),
}

PANEL_TITLES = ["Gaussian Processes", "Original CSDI", "Our CSDI"]
Y_LABEL = "values"

# ---------------------------------------------------------------- layout (pixels)
W, H = 744, 547
PANELS = [
    # name, bands, ranges, ticks, left edge of each column, top edge of each row
    ("gp", GP_BANDS, GP_YRANGE, GP_YTICKS, [24.7, 113.0, 202.0, 290.0], [32.0, 111.0, 190.0]),
    ("orig", ORIG_BANDS, ORIG_YRANGE, ORIG_YTICKS, [409.0, 498.0, 586.0, 675.0], [32.0, 111.0, 190.0]),
    ("ours", OURS_BANDS, OURS_YRANGE, OURS_YTICKS, [215.0, 304.0, 392.4, 480.4], [317.0, 397.0, 477.0]),
]
AX_W, AX_H = 73.5, 66.0
XR = [-1.15, 24.15]

FILL = "rgba(0,128,0,0.3)"
MED = "rgba(0,128,0,0.42)"
FRAME = "#c4c4c4"
TICK_FONT = dict(family="DejaVu Sans", size=4, color="#606060")


def px(x):
    return x / W


def py(y):
    return 1 - y / H


fig = go.Figure()
layout = dict(width=W, height=H, margin=dict(l=0, r=0, t=0, b=0), showlegend=False,
              paper_bgcolor="white", plot_bgcolor="white")
annotations = []
shapes = []

k = 0
for name, bands, yranges, yticks, cols, rows in PANELS:
    for r in range(1, 4):
        for c in range(1, 5):
            k += 1
            xa = "x" if k == 1 else f"x{k}"
            ya = "y" if k == 1 else f"y{k}"
            mid, lo, hi = bands[(r, c)]
            fig.add_trace(go.Scatter(x=STEPS, y=lo, xaxis=xa, yaxis=ya, mode="lines",
                                     line=dict(width=0, color=FILL), hoverinfo="skip"))
            fig.add_trace(go.Scatter(x=STEPS, y=hi, xaxis=xa, yaxis=ya, mode="lines",
                                     line=dict(width=0, color=FILL), fill="tonexty",
                                     fillcolor=FILL, hoverinfo="skip"))
            fig.add_trace(go.Scatter(x=STEPS, y=mid, xaxis=xa, yaxis=ya, mode="lines",
                                     line=dict(width=0.9, color=MED)))
            if (r, c) in TRUTH:
                vals, obs = TRUTH[(r, c)]
                tx = [t for t in STEPS if t not in obs]
                fig.add_trace(go.Scatter(x=tx, y=[vals[t] for t in tx], xaxis=xa, yaxis=ya,
                                         mode="markers",
                                         marker=dict(size=2.8, color="rgba(30,30,255,0.85)",
                                                     line=dict(width=0))))
                fig.add_trace(go.Scatter(x=obs, y=[vals[t] for t in obs], xaxis=xa, yaxis=ya,
                                         mode="markers",
                                         marker=dict(size=2.4, symbol="x-thin",
                                                     line=dict(width=0.7, color="#f06a50"))))

            x0 = cols[c - 1]
            x1 = min(x0 + AX_W, W)
            xr = [XR[0], XR[0] + (x1 - x0) / AX_W * (XR[1] - XR[0])]
            y0 = rows[r - 1]
            ytv = yticks[(r, c)]
            fmt = ".0f" if all(float(v).is_integer() for v in ytv) else None
            if fmt is None:
                dec = max(len(f"{v:.3f}".rstrip("0").split(".")[1]) for v in ytv)
                fmt = f".{max(dec, 1)}f"
            suffix = "" if k == 1 else str(k)
            layout["xaxis" + suffix] = dict(
                domain=[px(x0), px(x1)], range=xr, anchor=ya, tickvals=XTICKS,
                showline=True, linecolor=FRAME, linewidth=1, mirror=True,
                ticks="outside", ticklen=1.5, tickwidth=0.6, tickcolor="#a0a0a0",
                tickfont=TICK_FONT, showgrid=False, zeroline=False)
            layout["yaxis" + suffix] = dict(
                domain=[py(y0 + AX_H), py(y0)], range=yranges[(r, c)], anchor=xa,
                tickvals=ytv, tickformat=fmt,
                showline=True, linecolor=FRAME, linewidth=1, mirror=(x1 - x0) >= AX_W - 0.1,
                ticks="outside", ticklen=1.5, tickwidth=0.6, tickcolor="#a0a0a0",
                tickfont=TICK_FONT, showgrid=False, zeroline=False)
            if c == 1:
                annotations.append(dict(
                    x=px(x0 - 14), y=py(y0 + AX_H / 2), xref="paper", yref="paper",
                    text=Y_LABEL, textangle=-90, showarrow=False,
                    font=dict(family="DejaVu Sans", size=4, color="#606060")))

# panel outlines
shapes.append(dict(type="rect", xref="paper", yref="paper", x0=px(0.5), x1=px(364), y0=py(262), y1=py(30),
                   line=dict(color="#d6d6d6", width=1)))
shapes.append(dict(type="rect", xref="paper", yref="paper", x0=px(396), x1=px(760), y0=py(262), y1=py(30),
                   line=dict(color="#d6d6d6", width=1)))
shapes.append(dict(type="rect", xref="paper", yref="paper", x0=px(199), x1=px(558), y0=py(560), y1=py(316),
                   line=dict(color="#d6d6d6", width=1)))
# frames around label + plot in the two right-hand GP columns
for bx0, bx1 in [(196, 276), (281, 363.5)]:
    for ry in [32.0, 111.0, 190.0]:
        shapes.append(dict(type="rect", xref="paper", yref="paper", x0=px(bx0), x1=px(bx1),
                           y0=py(ry + AX_H), y1=py(ry), line=dict(color=FRAME, width=1)))
# separator between the two upper panels
shapes.append(dict(type="line", xref="paper", yref="paper", x0=px(378), x1=px(378), y0=py(250), y1=py(44),
                   line=dict(color="black", width=2)))

# panel titles
TITLE_FONT = dict(family="Liberation Sans", size=17.5, color="black")
for text, cx, cy in zip(PANEL_TITLES, [187, 581, 375], [15, 15, 304]):
    annotations.append(dict(x=px(cx), y=py(cy), xref="paper", yref="paper", text=f"<b>{text}</b>",
                            showarrow=False, font=TITLE_FONT, xanchor="center", yanchor="middle"))

layout["annotations"] = annotations
layout["shapes"] = shapes
fig.update_layout(**layout)
fig.write_html("out.html")
